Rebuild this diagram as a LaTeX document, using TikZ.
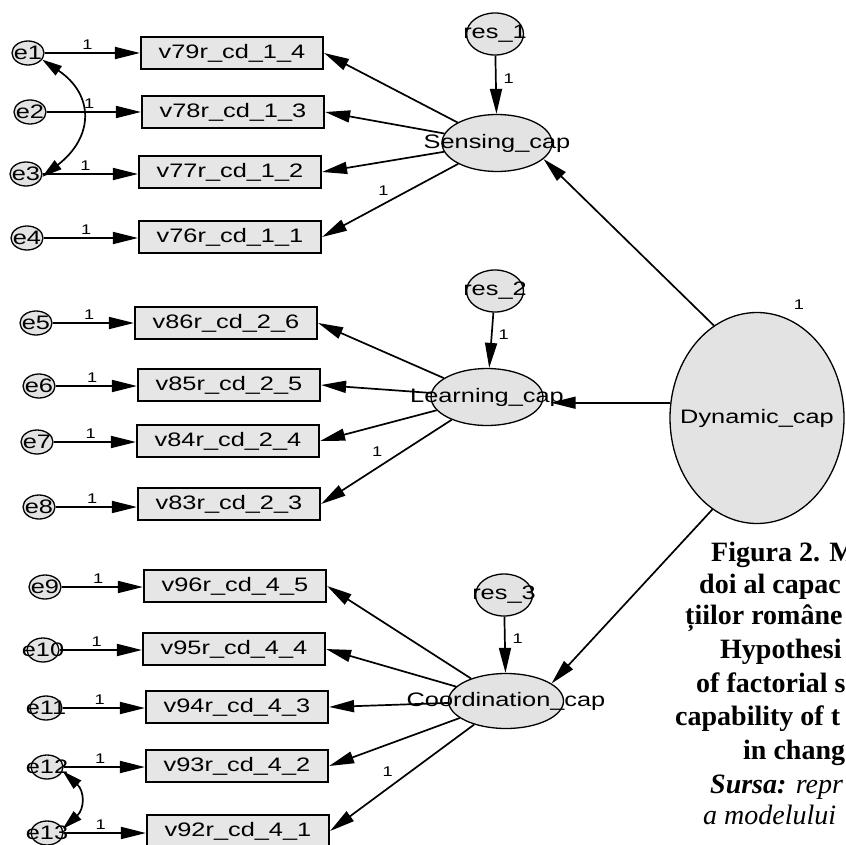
\documentclass[tikz,border=0pt]{standalone}
\usepackage{fontspec}
\usetikzlibrary{shapes.geometric,arrows.meta,calc}
\newfontfamily\amos[FakeStretch=1.3]{Liberation Sans}
\newfontfamily\capfont{Liberation Serif}
\definecolor{fillg}{HTML}{E3E3E3}
\definecolor{boxg}{HTML}{E6E6E6}
\tikzset{
  dtext/.style={font=\amos\fontsize{19.5}{20}\selectfont, inner sep=0pt},
  obs/.style={draw, line width=2.2pt, fill=boxg, minimum width=182pt, minimum height=32pt, inner sep=0pt, dtext},
  errv/.style={ellipse, draw, line width=1.3pt, fill=fillg, minimum width=32pt, minimum height=24pt, inner sep=0pt, label={[dtext]center:#1}},
  resv/.style={ellipse, draw, line width=1.3pt, fill=fillg, minimum width=57pt, minimum height=42pt, inner sep=0pt, label={[dtext]center:#1}},
  latv/.style={ellipse, draw, line width=1.3pt, fill=fillg, inner sep=0pt, label={[dtext]center:#1}},
  one/.style={font=\amos\fontsize{14}{14}\selectfont, inner sep=1pt},
  arr/.style={line width=1.7pt, -{Triangle[length=25pt,width=12pt]}},
  cov/.style={line width=1.7pt, {Triangle[length=20pt,width=11pt]}-{Triangle[length=20pt,width=11pt]}},
  captxt/.style={font=\capfont\bfseries\fontsize{28}{30}\selectfont, inner sep=0pt, anchor=base west},
  capit/.style={font=\capfont\itshape\fontsize{28}{30}\selectfont, inner sep=0pt, anchor=base west},
}
\begin{document}
\begin{tikzpicture}[x=1pt,y=-1pt]
\useasboundingbox[fill=white] (0,0) rectangle (845,845);

% latent variables
\node[latv=Sensing\_cap, minimum width=110pt, minimum height=57pt] (S) at (497,143) {};
\node[latv=Learning\_cap, minimum width=112pt, minimum height=57pt] (L) at (487,397) {};
\node[latv=Coordination\_cap, minimum width=115pt, minimum height=55pt] (C) at (506,701) {};
\node[latv=Dynamic\_cap, minimum width=174pt, minimum height=211pt] (D) at (757,418) {};

\node[resv=res\_1] (r1) at (495,34) {};
\node[resv=res\_2] (r2) at (495,291) {};
\node[resv=res\_3] (r3) at (504,595) {};

% observed
\node[obs] (v79) at (232,53) {v79r\_cd\_1\_4};
\node[obs] (v78) at (233,112) {v78r\_cd\_1\_3};
\node[obs] (v77) at (230,172) {v77r\_cd\_1\_2};
\node[obs] (v76) at (230,237) {v76r\_cd\_1\_1};
\node[obs] (v86) at (226,323) {v86r\_cd\_2\_6};
\node[obs] (v85) at (229,385) {v85r\_cd\_2\_5};
\node[obs] (v84) at (228,441) {v84r\_cd\_2\_4};
\node[obs] (v83) at (229,504) {v83r\_cd\_2\_3};
\node[obs] (v96) at (235,586) {v96r\_cd\_4\_5};
\node[obs] (v95) at (234,649) {v95r\_cd\_4\_4};
\node[obs] (v94) at (237,707) {v94r\_cd\_4\_3};
\node[obs] (v93) at (237,766) {v93r\_cd\_4\_2};
\node[obs] (v92) at (238,831) {v92r\_cd\_4\_1};

% errors
\node[errv=e1] (e1) at (28,53) {};
\node[errv=e2] (e2) at (30,112) {};
\node[errv=e3] (e3) at (26,174) {};
\node[errv=e4] (e4) at (27,238) {};
\node[errv=e5] (e5) at (36,323) {};
\node[errv=e6] (e6) at (39,386) {};
\node[errv=e7] (e7) at (37,442) {};
\node[errv=e8] (e8) at (39,507) {};
\node[errv=e9] (e9) at (45,587) {};
\node[errv=e10] (e10) at (43,650) {};
\node[errv=e11] (e11) at (46,708) {};
\node[errv=e12] (e12) at (47,767) {};
\node[errv=e13] (e13) at (47,833) {};

% error paths
\foreach \e/\v in {e1/v79,e2/v78,e3/v77,e4/v76,e5/v86,e6/v85,e7/v84,e8/v83,e9/v96,e10/v95,e11/v94,e12/v93,e13/v92}{
  \draw[arr] (\e) -- (\e -| \v.west) node[one, pos=.45, above=2pt] {1};
}

% covariances
\draw[cov] (e1.-25) .. controls +(52,35) and +(52,-40) .. (e3.-10);
\draw[cov] (e12.-15) .. controls +(22,20) and +(22,-20) .. (e13.15);

% loadings
\draw[arr] (S) -- (v79.east);
\draw[arr] (S) -- (v78.east);
\draw[arr] (S) -- (v77.east);
\draw[arr] (S) -- (v76.east) node[one, pos=.55, above=7pt] {1};
\draw[arr] (L) -- (v86.east);
\draw[arr] (L) -- (v85.east);
\draw[arr] (L) -- (v84.east);
\draw[arr] (L) -- (v83.east) node[one, pos=.57, above=9pt] {1};
\draw[arr] (C) -- (v96.east);
\draw[arr] (C) -- (v95.east);
\draw[arr] (C) -- (v94.east);
\draw[arr] (C) -- (v93.east);
\draw[arr] (C) -- (v92.east) node[one, pos=.6, above=10pt] {1};

% residuals
\draw[arr] (r1) -- (S) node[one, pos=.4, right=6pt] {1};
\draw[arr] (r2) -- (L) node[one, pos=.4, right=5pt] {1};
\draw[arr] (r3) -- (C) node[one, pos=.4, right=6pt] {1};

% second order
\draw[arr] (D.115) -- (S.341);
\draw[arr] (D.170) -- ($(L.east |- D.170)+(7,0)$);
\draw[arr] (D.244) -- (C.21);
\node[one] (dvar) at (799,305) {1};

% caption
\node[captxt] (c1) at (711,561) {Figura 2. M};
\node[captxt] (c2) at (699,593) {doi al capac};
\node[captxt] (c3) at (685,624) {țiilor române};
\node[captxt] (c4) at (720,658) {Hypothesi};
\node[captxt] (c5) at (696,692) {of factorial s};
\node[captxt] (c6) at (675,725) {capability of t};
\node[captxt] (c7) at (743,759) {in chang};
\node[capit] (c8) at (710,793) {\textbf{Sursa:} repr};
\node[capit] (c9) at (703,824) {a modelului};
\end{tikzpicture}
\end{document}
